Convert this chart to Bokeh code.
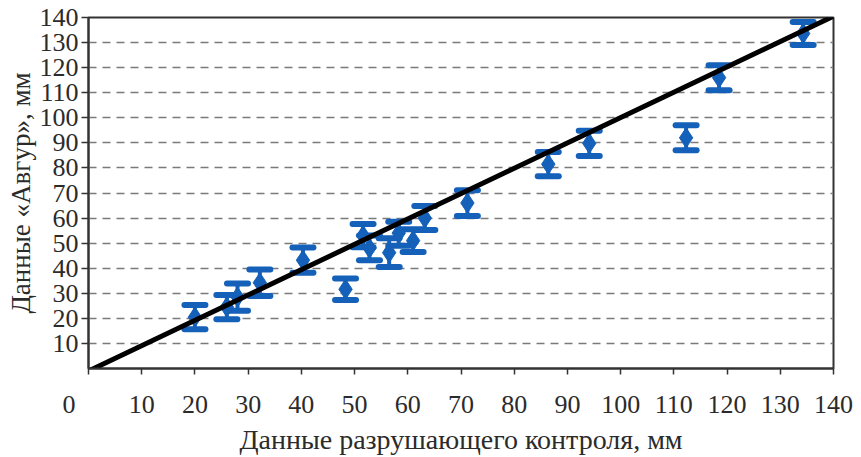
from bokeh.plotting import figure
from bokeh.models import (ColumnDataSource, Whisker, TeeHead, FixedTicker, Range1d)
from bokeh.embed import file_html
from bokeh.resources import INLINE

# Data
x_destr = [20, 26, 28, 32.2, 40.3, 48.3, 51.6, 52.8, 56.5, 58.3, 61.0, 63.2, 71.2, 86.4, 94.1, 112.3, 118.5, 134.3]
y_avgur = [20.5, 24.5, 28.5, 34.2, 43.2, 31.6, 53.0, 48.0, 46.2, 54.0, 51.0, 60.0, 66.0, 81.5, 89.8, 92.0, 116.0, 133.6]
y_upper = [25.3, 29.3, 33.9, 39.5, 48.3, 35.9, 57.6, 53.0, 52.0, 58.5, 55.5, 64.8, 71.1, 86.4, 94.8, 97.0, 121.0, 138.2]
y_lower = [15.7, 19.6, 23.0, 28.9, 38.2, 27.3, 48.4, 43.2, 40.5, 49.0, 46.5, 55.2, 60.8, 76.7, 84.8, 87.1, 111.0, 129.0]

line_x = [0, 140]
line_y = [-1, 140.5]

x_ticks = [0, 10, 20, 30, 40, 50, 60, 70, 80, 90, 100, 110, 120, 130, 140]
y_ticks = [10, 20, 30, 40, 50, 60, 70, 80, 90, 100, 110, 120, 130, 140]
# the "0" of the x axis sits left of the frame corner in the reference
x_label_overrides = {0: "0" + "\u00a0" * 6}

BLUE = "#1560b8"
TXT = "#2b2b2b"
FONT = "'Liberation Serif', 'DejaVu Serif', serif"

p = figure(width=861, height=457, output_backend="svg", toolbar_location=None,
           x_range=Range1d(0, 140), y_range=Range1d(0, 140),
           min_border_left=88, min_border_right=28, min_border_top=17, min_border_bottom=89)

p.outline_line_color = "#333333"
p.outline_line_width = 2
p.background_fill_color = "white"
p.border_fill_color = "white"

# axes
p.xaxis.ticker = FixedTicker(ticks=x_ticks)
p.yaxis.ticker = FixedTicker(ticks=y_ticks)
p.xaxis.major_label_overrides = x_label_overrides
p.axis.axis_line_color = "#333333"
p.axis.axis_line_width = 2
p.axis.major_tick_line_color = "#333333"
p.axis.major_tick_line_width = 1.5
p.axis.minor_tick_line_color = None
p.axis.major_label_text_font = FONT
p.axis.major_label_text_font_size = "26px"
p.axis.major_label_text_color = TXT
p.axis.axis_label_text_font = FONT
p.axis.axis_label_text_font_style = "normal"
p.axis.axis_label_text_color = TXT
p.xaxis.axis_label_text_font_size = "28px"
p.yaxis.axis_label_text_font_size = "27px"
p.xaxis.major_tick_in = 0
p.xaxis.major_tick_out = 6
p.yaxis.major_tick_in = 0
p.yaxis.major_tick_out = 7
p.xaxis.major_label_standoff = 15
p.yaxis.major_label_standoff = 3
p.xaxis.axis_label = "Данные разрушающего контроля, мм"
p.yaxis.axis_label = "Данные «Авгур», мм"
p.xaxis.axis_label_standoff = 2
p.yaxis.axis_label_standoff = 1

# grid
p.xgrid.grid_line_color = None
p.ygrid.ticker = FixedTicker(ticks=y_ticks)
p.ygrid.grid_line_color = "#7a7a7a"
p.ygrid.grid_line_width = 1.5
p.ygrid.grid_line_dash = "8 6"

src = ColumnDataSource(dict(x=x_destr, y=y_avgur, upper=y_upper, lower=y_lower))

whisk = Whisker(base="x", upper="upper", lower="lower", source=src, dimension="height",
                line_color=BLUE, line_width=4,
                upper_head=TeeHead(size=21, line_color=BLUE, line_width=6, line_cap="round"),
                lower_head=TeeHead(size=21, line_color=BLUE, line_width=6, line_cap="round"))
p.add_layout(whisk)

p.scatter("x", "y", source=src, marker="diamond", size=20, fill_color=BLUE, line_color=BLUE)

p.line(line_x, line_y, line_color="black", line_width=5, line_cap="round")

open("out.html", "w").write(file_html(p, INLINE))
